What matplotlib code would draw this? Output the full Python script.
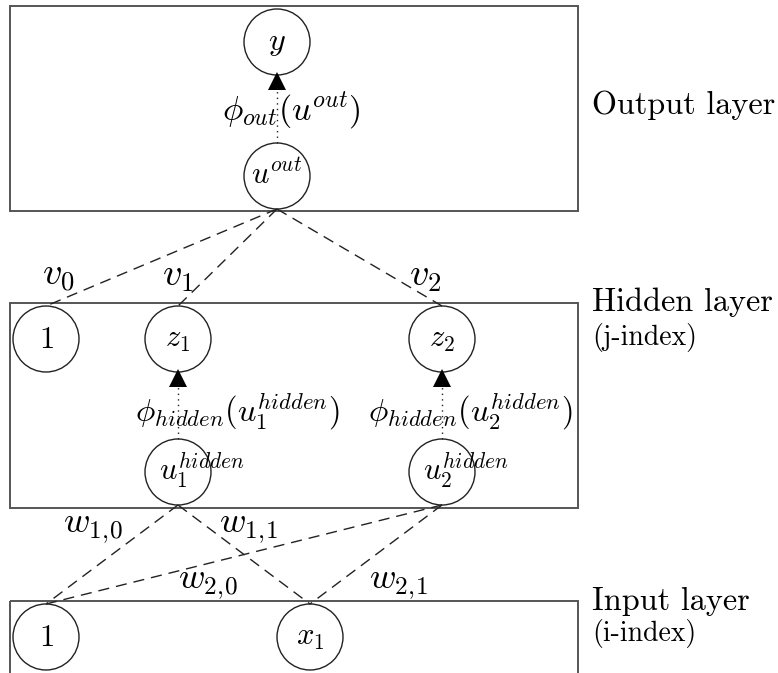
import matplotlib
matplotlib.use('Agg')
import matplotlib.pyplot as plt
from matplotlib.patches import Circle, Rectangle

plt.rcParams['mathtext.fontset'] = 'cm'

# layer boxes (left, top, right, bottom) in pixel space
box_left, box_right = 10, 578
box_tops = [6, 303, 601]
box_bottoms = [211, 508, 690]

R = 33  # node radius

# output layer
out_x = [277, 277]
out_y = [42, 176]
out_labels = ['$y$', '$u^{out}$']

# hidden layer: bias + z nodes on top row, u nodes below
hid_x = [46, 178, 442]
hid_y = 339
hid_labels = ['$1$', '$z_1$', '$z_2$']
hidu_x = [178, 442]
hidu_y = 472
hidu_labels = ['$u_1^{hidden}$', '$u_2^{hidden}$']

# input layer
inp_x = [46, 310]
inp_y = 637
inp_labels = ['$1$', '$x_1$']

v_labels = ['$v_0$', '$v_1$', '$v_2$']
v_pos = [(58, 276), (178, 276), (425, 276)]
w_labels = ['$w_{1,\\!0}$', '$w_{1,\\!1}$', '$w_{2,\\!0}$', '$w_{2,\\!1}$']
w_pos = [(93, 528), (248, 528), (208, 584), (398, 584)]

phi_labels = ['$\\phi_{out}(u^{out})$', '$\\phi_{hidden}(u_1^{hidden})$',
              '$\\phi_{hidden}(u_2^{hidden})$']
phi_pos = [(222, 110), (135, 412), (368, 412)]
phi_sizes = [24.5, 23.3, 23.3]

layer_names = ['Output layer', 'Hidden layer', 'Input layer']
layer_y = [105, 302, 601]
index_names = ['', '(j-index)', '(i-index)']
index_y = [0, 337, 634]

fig = plt.figure(figsize=(7.78, 6.73), dpi=100)
ax = fig.add_axes([0, 0, 1, 1])
ax.set_xlim(0, 778)
ax.set_ylim(673, 0)
ax.axis('off')

box_col = '#555555'
for t, b in zip(box_tops, box_bottoms):
    ax.add_patch(Rectangle((box_left, t), box_right - box_left, b - t,
                           fill=False, edgecolor=box_col, linewidth=1.4))


def node(x, y, label, size=22, dx=0, dy=0):
    ax.add_patch(Circle((x, y), R, fill=False, edgecolor='#222222', linewidth=1.0))
    ax.text(x + dx, y + dy, label, fontsize=size, ha='center', va='center')


def dashed(x0, y0, x1, y1):
    ax.plot([x0, x1], [y0, y1], color='#222222', linewidth=1.0,
            linestyle=(0, (8, 5)))


def act_arrow(x, y_from, y_to):
    # dotted shaft, filled triangle head touching circle above
    ax.plot([x, x], [y_from, y_to + 12], color='#222222', linewidth=1.0,
            linestyle=(0, (1, 3)))
    ax.plot(x, y_to + 6, marker='^', markersize=13, color='black',
            markeredgewidth=0)


# edges hidden -> output
for hx in hid_x:
    dashed(out_x[1], out_y[1] + R, hx, hid_y - R)
# edges input -> hidden u
for ux in hidu_x:
    for ix in inp_x:
        dashed(ux, hidu_y + R, ix, inp_y - R)

# nodes
node(out_x[0], out_y[0], out_labels[0], size=23)
node(out_x[1], out_y[1], out_labels[1], dy=-2)
for x, lab in zip(hid_x, hid_labels):
    node(x, hid_y, lab)
for x, lab in zip(hidu_x, hidu_labels):
    node(x, hidu_y, lab, dx=24, dy=-2)
for x, lab in zip(inp_x, inp_labels):
    node(x, inp_y, lab)

# activation arrows
act_arrow(out_x[0], out_y[1] - R, out_y[0] + R)
for ux in hidu_x:
    act_arrow(ux, hidu_y - R, hid_y + R)

for lab, (x, y), s in zip(phi_labels, phi_pos, phi_sizes):
    ax.text(x, y, lab, fontsize=s, ha='left', va='center')
for lab, (x, y) in zip(v_labels, v_pos):
    ax.text(x, y, lab, fontsize=27.5, ha='center', va='center')
for lab, (x, y) in zip(w_labels, w_pos):
    ax.text(x, y, lab, fontsize=26, ha='center', va='center')

for name, y in zip(layer_names, layer_y):
    ax.text(592, y, name, fontsize=23.2, family='cmr10', ha='left', va='center')
for name, y in zip(index_names, index_y):
    if name:
        ax.text(592, y, name, fontsize=20, family='cmr10', ha='left', va='center')

fig.savefig('out.png', dpi=100)
